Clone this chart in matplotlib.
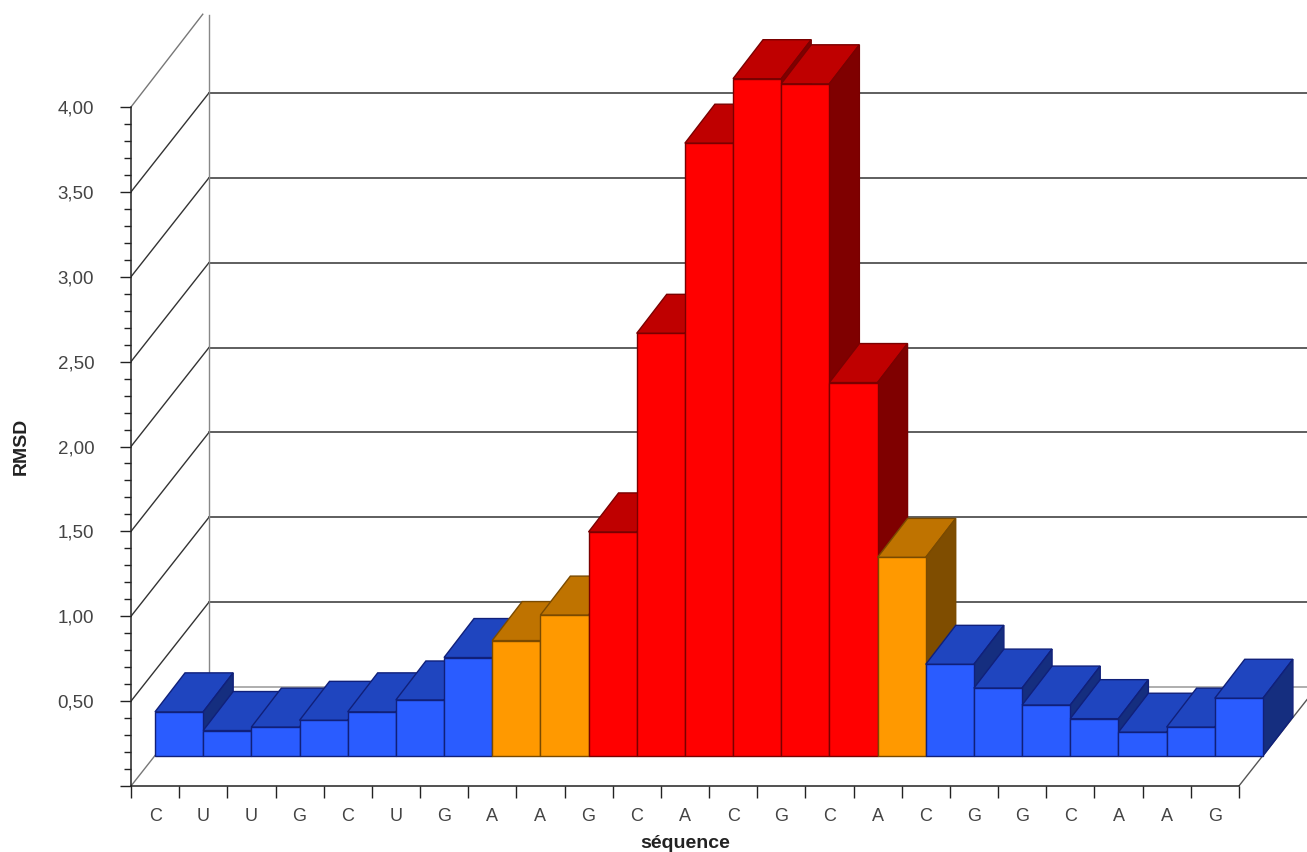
import matplotlib
matplotlib.use("Agg")
import matplotlib.pyplot as plt
import numpy as np

plt.rcParams["font.family"] = ["Liberation Sans", "DejaVu Sans"]

sequence = ["C", "U", "U", "G", "C", "U", "G", "A", "A", "G", "C", "A",
            "C", "G", "C", "A", "C", "G", "G", "C", "A", "A", "G"]
rmsd = [0.26, 0.15, 0.17, 0.21, 0.26, 0.33, 0.58, 0.68, 0.83, 1.32, 2.49, 3.61,
        3.99, 3.96, 2.20, 1.17, 0.54, 0.40, 0.30, 0.22, 0.14, 0.17, 0.34]
groups = ["b", "b", "b", "b", "b", "b", "b", "o", "o", "r", "r", "r",
          "r", "r", "r", "o", "b", "b", "b", "b", "b", "b", "b"]
y_ticks = [0.5, 1.0, 1.5, 2.0, 2.5, 3.0, 3.5, 4.0]
y_labels = ["0,50", "1,00", "1,50", "2,00", "2,50", "3,00", "3,50", "4,00"]

# front, top, side, edge
colours = {
    "b": ("#2a5cff", "#1f45bf", "#152e7f", "#10207a"),
    "o": ("#ff9900", "#bf7300", "#7f4d00", "#7a4a00"),
    "r": ("#ff0000", "#bf0000", "#7f0000", "#7a0000"),
}

# pixel sizes of the fake 3D, turned into data units below
W, H = 1307, 852
x0, y0 = 131, 786
px_x = 48.17
px_y = 169.75
floor_dx, floor_dy = 24 / px_x, 30 / px_y
depth_dx, depth_dy = 30 / px_x, 39 / px_y
back_dx, back_dy = 78 / px_x, 99 / px_y

fig = plt.figure(figsize=(W / 100, H / 100), dpi=100)
ax = fig.add_axes([x0 / W, (H - y0) / H, (W - x0) / W, y0 / H])
ax.set_xlim(0, (W - x0) / px_x)
ax.set_ylim(0, y0 / px_y)

n = len(rmsd)
xmax = ax.get_xlim()[1]

# walls and grid
for v in [0.0] + y_ticks:
    top = v == 4.0
    ax.plot([0, back_dx * (0.92 if top else 1)],
            [v, v + back_dy * (0.92 if top else 1) + (0.01 if top else 0)],
            color="#777777" if top or v == 0 else "#333333", lw=1, zorder=1)
    if not top:
        ax.plot([back_dx, xmax], [v + back_dy] * 2,
                color="#999999" if v == 0 else "#333333", lw=1.1, zorder=1)
ax.plot([back_dx, back_dx], [back_dy, 4.0 + back_dy * 0.93],
        color="#888888", lw=1, zorder=1)
ax.plot([n, n + back_dx], [0, back_dy], color="#555555", lw=1, zorder=1)

# bars, left to right so that the later ones cover the earlier ones
for i, (v, g) in enumerate(zip(rmsd, groups)):
    front, top_c, side, edge = colours[g]
    xl = i + floor_dx
    xr = xl + 1
    yb = floor_dy
    yt = yb + v
    ax.fill([xl, xr, xr + depth_dx, xl + depth_dx],
            [yt, yt, yt + depth_dy, yt + depth_dy],
            facecolor=top_c, edgecolor=edge, lw=1, zorder=2)
    ax.fill([xr, xr + depth_dx, xr + depth_dx, xr],
            [yb, yb + depth_dy, yt + depth_dy, yt],
            facecolor=side, edgecolor=edge, lw=1, zorder=2)
    ax.fill([xl, xr, xr, xl], [yb, yb, yt, yt],
            facecolor=front, edgecolor=edge, lw=1, zorder=2)

# axes
for name in ("top", "right"):
    ax.spines[name].set_visible(False)
ax.spines["left"].set_bounds(0, 4.0)
ax.spines["bottom"].set_bounds(0, n)
for name in ("left", "bottom"):
    ax.spines[name].set_color("#222222")
    ax.spines[name].set_linewidth(1.1)

ax.set_yticks([0.0] + y_ticks)
ax.set_yticklabels([""] + y_labels, fontsize=13.5, color="#444444")
ax.set_yticks(np.arange(0, 4.01, 0.1), minor=True)
ax.tick_params(axis="y", which="major", length=8, width=1, color="#222222", pad=18.5)
ax.tick_params(axis="y", which="minor", length=5, width=1, color="#222222")

ax.set_xticks(range(n + 1))
ax.set_xticklabels([""] * (n + 1))
ax.set_xticks([i + 0.5 for i in range(n)], minor=True)
ax.set_xticklabels(sequence, minor=True, fontsize=13, color="#444444")
ax.tick_params(axis="x", which="major", length=8.5, width=1, color="#222222")
ax.tick_params(axis="x", which="minor", length=0, pad=15.5)

ax.set_xlabel("séquence", fontsize=14, fontweight="bold", color="#222222", va="center")
ax.xaxis.set_label_coords((685 - x0) / (W - x0), (y0 - 843) / y0)
ax.set_ylabel("RMSD", fontsize=14, fontweight="bold", color="#222222", va="center")
ax.yaxis.set_label_coords((21 - x0) / (W - x0), (y0 - 446) / y0)

fig.savefig("out.png", dpi=100)
